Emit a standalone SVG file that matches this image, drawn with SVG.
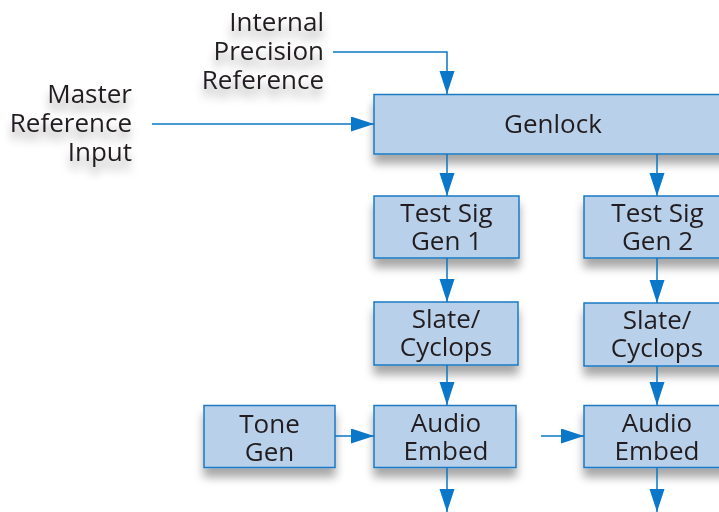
<svg xmlns="http://www.w3.org/2000/svg" width="719" height="512" viewBox="0 0 719 512">
<defs>
<filter id="sh" x="-30%" y="-30%" width="160%" height="180%">
<feGaussianBlur in="SourceAlpha" stdDeviation="5"/>
<feOffset dx="0" dy="9" result="b"/>
<feComponentTransfer><feFuncA type="linear" slope="0.35"/></feComponentTransfer>
<feMerge><feMergeNode/><feMergeNode in="SourceGraphic"/></feMerge>
</filter>
<marker id="ah" markerUnits="userSpaceOnUse" markerWidth="24" markerHeight="16" refX="23" refY="7.5" orient="auto">
<path d="M0,0 L23,7.5 L0,15 Z" fill="#0a77c8"/>
</marker>
</defs>
<style>
.box{fill:#b9d0ea;stroke:#1a7ac4;stroke-width:1.5}
text{font-family:"Open Sans","Noto Sans",sans-serif;font-size:26px;fill:#231f20}
.c{text-anchor:middle}
.r{text-anchor:end}
.ln{fill:none;stroke:#0a77c8;stroke-width:1.5}
</style>
<rect width="719" height="512" fill="#ffffff"/>
<g id="label-internal" filter="url(#sh)">
<text class="r" x="324" y="31">Internal</text>
<text class="r" x="324" y="60">Precision</text>
<text class="r" x="324" y="89">Reference</text>
</g>
<g id="label-master" filter="url(#sh)">
<text class="r" x="132" y="103">Master</text>
<text class="r" x="132" y="132">Reference</text>
<text class="r" x="132" y="161">Input</text>
</g>
<g id="genlock" filter="url(#sh)">
<rect class="box" x="374" y="94.5" width="360" height="59.5"/>
<text class="c" x="553" y="133">Genlock</text>
</g>
<g id="tsg1" filter="url(#sh)">
<rect class="box" x="374" y="196" width="145" height="62"/>
<text class="c" x="446.5" y="222">Test Sig</text>
<text class="c" x="446.5" y="250">Gen 1</text>
</g>
<g id="tsg2" filter="url(#sh)">
<rect class="box" x="584" y="196" width="150" height="62"/>
<text class="c" x="657.5" y="222">Test Sig</text>
<text class="c" x="657.5" y="250">Gen 2</text>
</g>
<g id="slate1" filter="url(#sh)">
<rect class="box" x="374" y="302" width="144" height="63"/>
<text class="c" x="446" y="328">Slate/</text>
<text class="c" x="446" y="356">Cyclops</text>
</g>
<g id="slate2" filter="url(#sh)">
<rect class="box" x="584" y="303" width="150" height="63"/>
<text class="c" x="657" y="329">Slate/</text>
<text class="c" x="657" y="357">Cyclops</text>
</g>
<g id="tonegen" filter="url(#sh)">
<rect class="box" x="204" y="405.5" width="131" height="62"/>
<text class="c" x="269.5" y="433">Tone</text>
<text class="c" x="269.5" y="461">Gen</text>
</g>
<g id="audio1" filter="url(#sh)">
<rect class="box" x="374" y="405.5" width="142" height="62"/>
<text class="c" x="446" y="432">Audio</text>
<text class="c" x="446" y="460">Embed</text>
</g>
<g id="audio2" filter="url(#sh)">
<rect class="box" x="584" y="405.5" width="150" height="62"/>
<text class="c" x="657" y="432">Audio</text>
<text class="c" x="657" y="460">Embed</text>
</g>
<g id="connectors">
<path class="ln" d="M333,52 H447 V94" marker-end="url(#ah)"/>
<path class="ln" d="M152,124 H374" marker-end="url(#ah)"/>
<path class="ln" d="M447,154 V196" marker-end="url(#ah)"/>
<path class="ln" d="M657,154 V196" marker-end="url(#ah)"/>
<path class="ln" d="M447,258 V302" marker-end="url(#ah)"/>
<path class="ln" d="M657,258 V303" marker-end="url(#ah)"/>
<path class="ln" d="M447,365 V405" marker-end="url(#ah)"/>
<path class="ln" d="M657,366 V405" marker-end="url(#ah)"/>
<path class="ln" d="M335,436 H374" marker-end="url(#ah)"/>
<path class="ln" d="M541,436 H584" marker-end="url(#ah)"/>
<path class="ln" d="M447,468 V512" marker-end="url(#ah)"/>
<path class="ln" d="M657,468 V512" marker-end="url(#ah)"/>
</g>
</svg>
